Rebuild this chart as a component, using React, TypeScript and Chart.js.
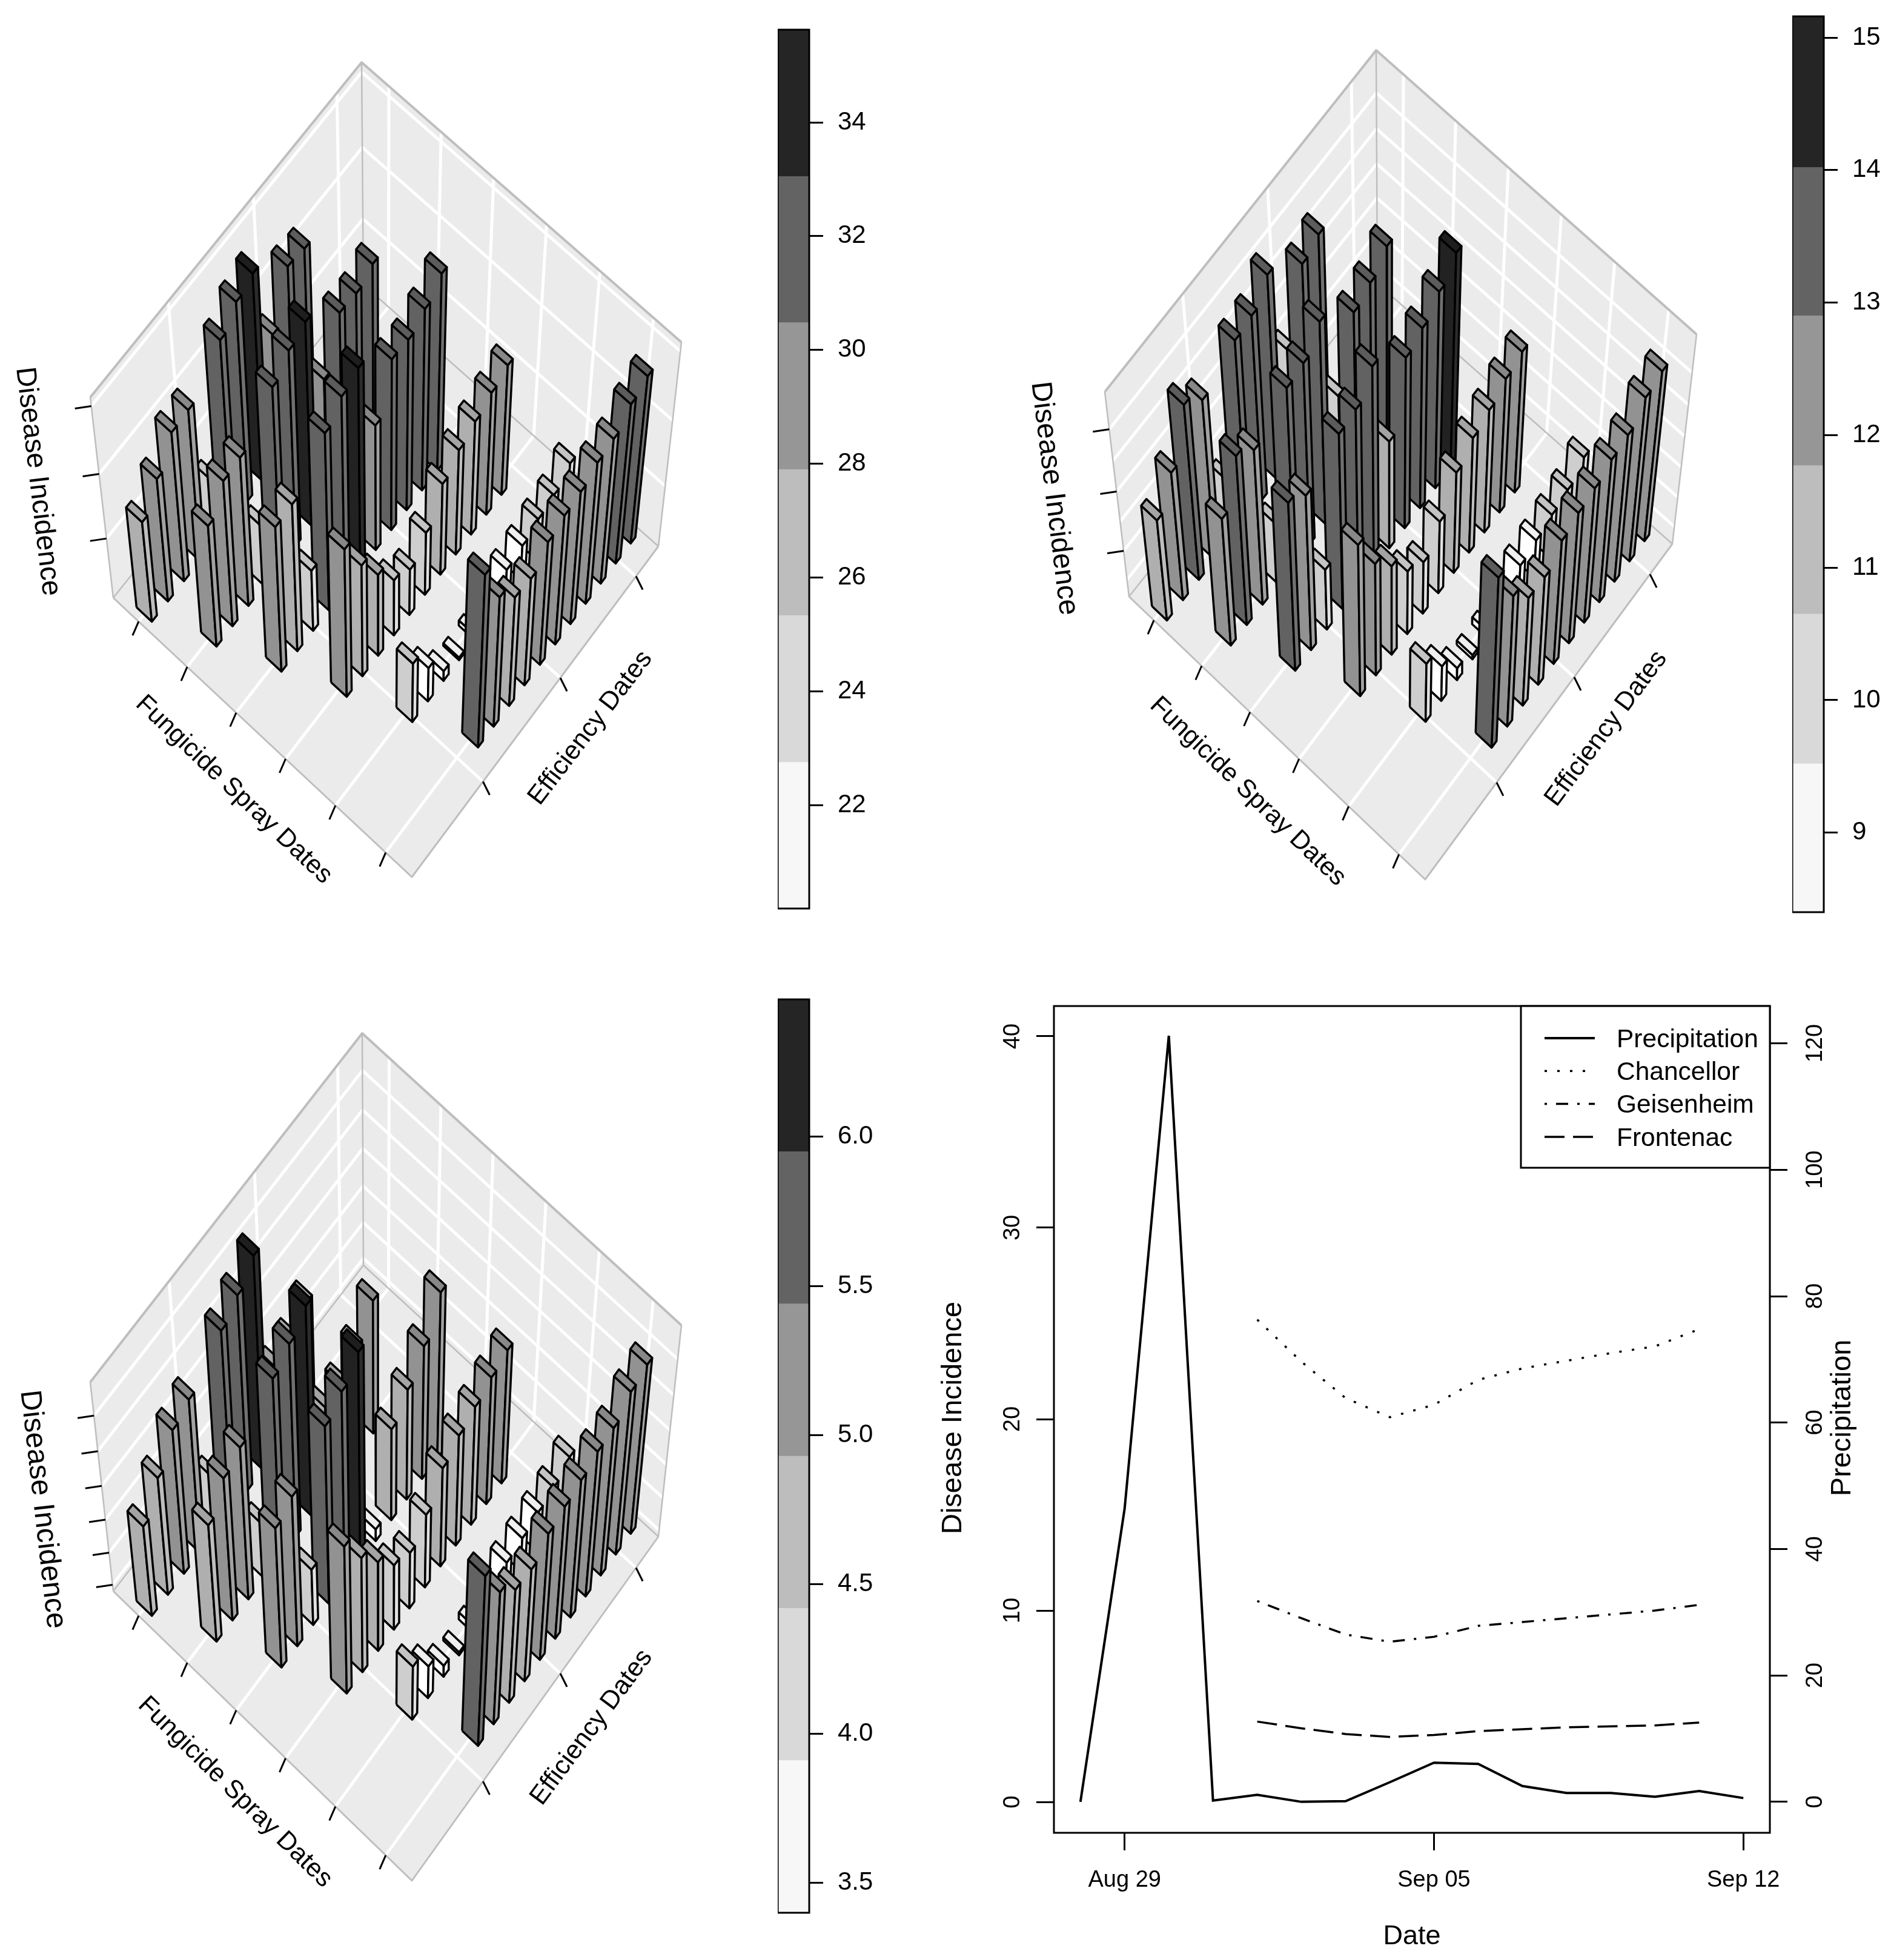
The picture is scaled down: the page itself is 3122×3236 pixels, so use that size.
import React, { useEffect, useRef } from "react";
import { Chart, registerables } from "chart.js";

Chart.register(...registerables);
Chart.defaults.font.family = "'Liberation Sans', Arial, sans-serif";
Chart.defaults.color = "#000";

/* ---------- data: disease incidence per spray date (rows) and efficiency date (columns) ---------- */
const chancellorValues = [
  [28.2, 29.9, 31.8, 31.9, 25.0, 33.9, 35.1, 35.6, 29.8, 33.2, 33.0],
  [29.9, 31.7, 31.85, 25.0, 33.9, 35.0, 35.5, 29.9, 33.2, 33.1, 33.7],
  [31.8, 31.9, 25.1, 34.0, 35.1, 35.6, 29.9, 33.2, 33.1, 33.8, 34.8],
  [32.1, 29.2, 26.8, 24.7, 23.9, 25.2, 27.4, 28.4, 29.0, 29.6, 30.1],
  [25.1, 23.0, 21.0, 20.4, 20.6, 21.5, 22.6, 22.9, 23.4, 23.7, 24.6],
  [34.2, 30.8, 29.1, 28.9, 30.1, 30.5, 30.7, 31.3, 31.5, 32.5, 33.0],
];
const chancellorLevels = [
  [2, 3, 3, 3, 1, 4, 4, 5, 3, 4, 4],
  [3, 3, 3, 1, 4, 4, 5, 3, 4, 4, 4],
  [3, 2, 1, 4, 4, 5, 3, 4, 4, 4, 4],
  [3, 2, 2, 1, 1, 1, 2, 2, 2, 3, 3],
  [1, 0, 0, 0, 0, 0, 0, 0, 1, 1, 1],
  [4, 3, 2, 2, 3, 3, 3, 3, 3, 4, 4],
];
const geisenheimValues = [
  [11.86, 12.73, 14.2, 13.68, 10.43, 14.2, 14.3, 14.88, 11.95, 13.95, 14.2],
  [12.77, 14.1, 13.6, 10.5, 14.2, 14.3, 14.9, 11.95, 13.9, 14.15, 14.6],
  [14.15, 13.68, 10.5, 14.26, 14.34, 15.0, 11.98, 13.95, 14.2, 14.65, 15.16],
  [13.65, 12.3, 11.5, 10.6, 10.2, 10.87, 11.8, 12.24, 12.46, 12.78, 12.97],
  [10.5, 9.65, 8.83, 8.55, 8.65, 8.9, 9.53, 9.68, 9.85, 10.0, 10.4],
  [14.34, 13.0, 12.2, 12.17, 12.67, 12.87, 12.97, 13.2, 13.3, 13.8, 13.95],
];
const geisenheimLevels = [
  [2, 3, 4, 3, 1, 4, 4, 4, 1, 4, 4],
  [3, 4, 3, 1, 4, 4, 4, 1, 4, 4, 4],
  [4, 3, 1, 4, 4, 4, 2, 4, 4, 4, 5],
  [3, 3, 2, 1, 1, 1, 2, 2, 2, 3, 3],
  [1, 0, 0, 0, 0, 0, 0, 0, 1, 1, 1],
  [4, 3, 2, 2, 3, 3, 3, 3, 3, 3, 3],
];
const frontenacValues = [
  [4.78, 5.17, 5.54, 5.66, 4.23, 6.0, 6.18, 6.41, 4.6, 4.7, 4.93],
  [5.2, 5.56, 5.68, 4.24, 6.02, 6.19, 6.4, 4.7, 4.73, 4.96, 5.3],
  [5.56, 5.69, 4.27, 6.05, 6.22, 6.45, 3.58, 4.76, 5.02, 5.33, 5.77],
  [5.7, 5.19, 4.79, 4.41, 4.27, 4.52, 4.89, 5.05, 5.15, 5.26, 5.34],
  [4.27, 3.92, 3.58, 3.45, 3.51, 3.7, 3.86, 3.91, 3.98, 4.04, 4.18],
  [6.1, 5.51, 5.2, 5.17, 5.37, 5.44, 5.5, 5.59, 5.61, 5.81, 5.88],
];
const frontenacLevels = [
  [2, 2, 3, 3, 1, 4, 4, 5, 2, 2, 2],
  [2, 3, 3, 1, 4, 4, 5, 2, 2, 2, 3],
  [3, 3, 1, 4, 4, 5, 0, 2, 2, 3, 3],
  [3, 2, 2, 1, 1, 1, 2, 2, 2, 3, 3],
  [1, 0, 0, 0, 0, 0, 0, 0, 0, 1, 1],
  [4, 3, 2, 2, 3, 3, 3, 3, 3, 3, 3],
];
const chancellorBreaks = [20.18, 22.75, 25.33, 27.9, 30.48, 33.05, 35.63];
const geisenheimBreaks = [8.4, 9.52, 10.65, 11.77, 12.9, 14.02, 15.16];
const frontenacBreaks = [3.4, 3.91, 4.42, 4.93, 5.44, 5.95, 6.46];
const chancellorBarTicks = [22, 24, 26, 28, 30, 32, 34];
const geisenheimBarTicks = [9, 10, 11, 12, 13, 14, 15];
const frontenacBarTicks = [3.5, 4, 4.5, 5, 5.5, 6];
const chancellorAxisTicks = [25, 30, 35];
const geisenheimAxisTicks = [10, 12, 14];
const geisenheimWallGrid = [9, 10, 11, 12, 13, 14];
const frontenacAxisTicks = [3.5, 4, 4.5, 5, 5.5, 6];
const sprayTicks = [0, 1, 2, 3, 4, 5];
const efficiencyTicks = [4, 9, 14];

/* line panel */
const precipDays = [-1, 0, 1, 2, 3, 4, 5, 6, 7, 8, 9, 10, 11, 12, 13, 14];
const precipitation = [0, 46.4, 121.2, 0.2, 1.1, 0, 0.1, 3.1, 6.2, 6.0, 2.5, 1.4, 1.4, 0.8, 1.7, 0.6];
const incidenceDays = [3, 4, 5, 6, 7, 8, 9, 10, 11, 12, 13];
const chancellorMeans = [25.2, 23, 21.1, 20.1, 20.75, 22.05, 22.65, 23.05, 23.45, 23.8, 24.7];
const geisenheimMeans = [10.5, 9.6, 8.75, 8.37, 8.63, 9.2, 9.4, 9.6, 9.8, 10, 10.3];
const frontenacMeans = [4.2, 3.85, 3.55, 3.4, 3.5, 3.7, 3.8, 3.9, 3.95, 4, 4.15];
const leftTicks = [0, 10, 20, 30, 40];
const rightTicks = [0, 20, 40, 60, 80, 100, 120];
const dateTicks = [0, 7, 14];
const dateTickLabels = ["Aug 29", "Sep 05", "Sep 12"];

/* ---------- styles and geometry ---------- */
const LEVEL_COLORS = ["#F7F7F7", "#D9D9D9", "#BDBDBD", "#969696", "#636363", "#252525"];
const FACE_LEFT = ["#FFFFFF", "#CECECE", "#AFAFAF", "#929292", "#626262", "#222222"];
const FACE_RIGHT = ["#FFFFFF", "#E2E2E2", "#BEBEBE", "#A2A2A2", "#707070", "#2C2C2C"];
const FACE_TOP = ["#EFEFEF", "#C4C4C4", "#A4A4A4", "#888888", "#5C5C5C", "#1E1E1E"];
const WALL = "#EBEBEB";
const EDGE = "#BEBEBE";

const panelGeometry = {
  chancellor: {
    left: 0, top: 0, width: 1270, height: 1620,
    L: [187, 987], F: [680, 1448], R: [1087, 902], B: [600, 470],
    TL: [149, 656], TF: [684, 1144], TR: [1125, 565], TB: [597, 103],
    disease: [62, 795, 83.3, 46.5], spray: [386, 1304, 43.6], eff: [975, 1202, -52.6],
  },
  geisenheim: {
    left: 1640, top: 0, width: 1305, height: 1620,
    L: [1864, 985], F: [2353, 1452], R: [2761, 898], B: [2274, 468],
    TL: [1824, 647], TF: [2357, 1142], TR: [2801, 552], TB: [2272, 83],
    disease: [1740, 823, 83, 47.5], spray: [2060, 1307, 43.8], eff: [2652, 1203, -53.4],
  },
  frontenac: {
    left: 0, top: 1620, width: 1270, height: 1616,
    L: [187, 2627], F: [680, 3105], R: [1087, 2537], B: [600, 2089],
    TL: [149, 2282], TF: [684, 2805], TR: [1125, 2188], TB: [598, 1706],
    disease: [70, 2492, 83.5, 48.5], spray: [388, 2959, 44.4], eff: [977, 2852, -53.4],
  },
};

const sprayPos = (s: number) => 0.087 + 0.1655 * s;
const effPos = (t: number) => 0.0314 + 0.0625 * t;
const HALF_A = 0.0262;
const HALF_B = 0.0098;
const Z_CURVE = 1.08;

function homography(p0: number[], p1: number[], p2: number[], p3: number[]) {
  const dx1 = p1[0] - p2[0], dx2 = p3[0] - p2[0], dx3 = p0[0] - p1[0] + p2[0] - p3[0];
  const dy1 = p1[1] - p2[1], dy2 = p3[1] - p2[1], dy3 = p0[1] - p1[1] + p2[1] - p3[1];
  const den = dx1 * dy2 - dx2 * dy1;
  const g = (dx3 * dy2 - dx2 * dy3) / den;
  const h = (dx1 * dy3 - dx3 * dy1) / den;
  const a = p1[0] - p0[0] + g * p1[0], b = p3[0] - p0[0] + h * p3[0], c = p0[0];
  const d = p1[1] - p0[1] + g * p1[1], e = p3[1] - p0[1] + h * p3[1], f = p0[1];
  return (u: number, v: number) => {
    const w = g * u + h * v + 1;
    return [(a * u + b * v + c) / w, (d * u + e * v + f) / w];
  };
}

function makeProjector(geo: any, zMin: number, zMax: number) {
  const floor = homography(geo.L, geo.F, geo.R, geo.B);
  const roof = homography(geo.TL, geo.TF, geo.TR, geo.TB);
  return (a: number, b: number, z: number) => {
    const g = (z - zMin) / (zMax - zMin);
    const t = g / (Z_CURVE + (1 - Z_CURVE) * g);
    const p = floor(a, b), q = roof(a, b);
    return { x: p[0] + (q[0] - p[0]) * t, y: p[1] + (q[1] - p[1]) * t };
  };
}

const poly = (pts: any[], fill: string | null, stroke: string | null, width: number) => ({
  type: "scatter",
  showLine: true,
  data: fill ? [...pts, pts[0]] : pts,
  fill: fill ? "shape" : false,
  backgroundColor: fill || "transparent",
  borderColor: stroke || "transparent",
  borderWidth: stroke ? width : 0,
  borderJoinStyle: "round",
  borderCapStyle: "butt",
  pointRadius: 0,
  tension: 0,
  clip: false,
});

function buildDatasets(geo: any, values: number[][], levels: number[][], breaks: number[], wallGrid: number[], axisTicks: number[]) {
  const zMin = breaks[0], zMax = breaks[breaks.length - 1];
  const P = makeProjector(geo, zMin, zMax);
  const list: any[] = [];
  // walls and floor
  list.push(poly([P(0, 0, zMin), P(0, 1, zMin), P(0, 1, zMax), P(0, 0, zMax)], WALL, null, 0));
  list.push(poly([P(0, 1, zMin), P(1, 1, zMin), P(1, 1, zMax), P(0, 1, zMax)], WALL, null, 0));
  list.push(poly([P(0, 0, zMin), P(1, 0, zMin), P(1, 1, zMin), P(0, 1, zMin)], WALL, null, 0));
  // white reference grid
  for (const z of wallGrid) {
    list.push(poly([P(0, 0, z), P(0, 1, z), P(1, 1, z)], null, "#FFFFFF", 5));
  }
  for (const s of sprayTicks) {
    const a = sprayPos(s);
    list.push(poly([P(a, 0, zMin), P(a, 1, zMin), P(a, 1, zMax)], null, "#FFFFFF", 5));
  }
  for (const t of efficiencyTicks) {
    const b = effPos(t);
    list.push(poly([P(1, b, zMin), P(0, b, zMin), P(0, b, zMax)], null, "#FFFFFF", 5));
  }
  // box edges
  list.push(poly([P(0, 0, zMax), P(0, 1, zMax), P(1, 1, zMax)], null, EDGE, 4));
  list.push(poly([P(0, 0, zMin), P(0, 0, zMax)], null, EDGE, 2.5));
  list.push(poly([P(1, 1, zMin), P(1, 1, zMax)], null, EDGE, 2.5));
  list.push(poly([P(0, 1, zMin), P(0, 1, zMax)], null, EDGE, 2.5));
  list.push(poly([P(0, 0, zMin), P(1, 0, zMin), P(1, 1, zMin)], null, EDGE, 3));
  list.push(poly([P(0, 0, zMin), P(0, 1, zMin), P(1, 1, zMin)], null, EDGE, 2.5));
  // tick marks
  for (const s of sprayTicks) {
    const p = P(sprayPos(s), 0, zMin);
    list.push(poly([p, { x: p.x - 10, y: p.y + 23 }], null, "#000", 3));
  }
  for (const t of efficiencyTicks) {
    const p = P(1, effPos(t), zMin);
    list.push(poly([p, { x: p.x + 11, y: p.y + 22 }], null, "#000", 3));
  }
  for (const z of axisTicks) {
    const p = P(0, 0, z);
    list.push(poly([p, { x: p.x - 27, y: p.y + 4 }], null, "#000", 3));
  }
  // bars, far ones first
  const bars: any[] = [];
  values.forEach((row, s) =>
    row.forEach((z, v) => {
      const a = sprayPos(s), b = effPos(s + v);
      bars.push({ a, b, z, level: levels[s][v] });
    })
  );
  bars.sort((p, q) => p.a - p.b - (q.a - q.b));
  for (const { a, b, z, level } of bars) {
    const a0 = a - HALF_A, a1 = a + HALF_A, b0 = b - HALF_B, b1 = b + HALF_B;
    list.push(poly([P(a0, b0, zMin), P(a1, b0, zMin), P(a1, b0, z), P(a0, b0, z)], FACE_LEFT[level], "#000", 3.5));
    list.push(poly([P(a1, b0, zMin), P(a1, b1, zMin), P(a1, b1, z), P(a1, b0, z)], FACE_RIGHT[level], "#000", 3.5));
    list.push(poly([P(a0, b0, z), P(a1, b0, z), P(a1, b1, z), P(a0, b1, z)], FACE_TOP[level], "#000", 3.5));
  }
  return list.reverse(); // Chart.js paints dataset 0 last
}

function rotatedText(ctx: any, text: string, x: number, y: number, deg: number, size: number) {
  ctx.save();
  ctx.translate(x, y);
  ctx.rotate((deg * Math.PI) / 180);
  ctx.font = `${size}px 'Liberation Sans', Arial, sans-serif`;
  ctx.fillStyle = "#000";
  ctx.textAlign = "center";
  ctx.textBaseline = "middle";
  ctx.fillText(text, 0, 0);
  ctx.restore();
}

function Panel3D({ geo, values, levels, breaks, wallGrid, axisTicks }: any) {
  const ref = useRef<HTMLCanvasElement>(null);
  useEffect(() => {
    const chart = new Chart(ref.current as any, {
      type: "scatter",
      data: { datasets: buildDatasets(geo, values, levels, breaks, wallGrid, axisTicks) as any },
      options: {
        responsive: false,
        animation: false,
        devicePixelRatio: 1,
        layout: { padding: 0 },
        plugins: { legend: { display: false }, tooltip: { enabled: false } },
        scales: {
          x: { type: "linear", display: false, min: geo.left, max: geo.left + geo.width },
          y: { type: "linear", display: false, reverse: true, min: geo.top, max: geo.top + geo.height },
        },
      } as any,
      plugins: [
        {
          id: "axisTitles",
          afterDraw(c: any) {
            const sx = (v: number) => c.scales.x.getPixelForValue(v);
            const sy = (v: number) => c.scales.y.getPixelForValue(v);
            const put = (t: string, spec: number[], size: number) =>
              rotatedText(c.ctx, t, sx(spec[0]), sy(spec[1]), spec[2], size);
            put("Disease Incidence", geo.disease, geo.disease[3]);
            put("Fungicide Spray Dates", geo.spray, 42.5);
            put("Efficiency Dates", geo.eff, 43);
          },
        },
      ],
    });
    return () => chart.destroy();
  }, []);
  return (
    <canvas
      ref={ref}
      width={geo.width}
      height={geo.height}
      style={{ position: "absolute", left: geo.left, top: geo.top, width: geo.width, height: geo.height }}
    />
  );
}

const barFrame = {
  id: "frame",
  afterDraw(c: any) {
    const { left, top, width, height } = c.chartArea;
    c.ctx.save();
    c.ctx.strokeStyle = "#000";
    c.ctx.lineWidth = 3;
    c.ctx.strokeRect(left, top, width, height);
    c.ctx.restore();
  },
};

function ColorBar({ left, top, bottom, breaks, ticks, decimals }: any) {
  const ref = useRef<HTMLCanvasElement>(null);
  const PAD = 70; // larger than the scale's own label overhang, so the bar spans exactly top..bottom
  const canvasTop = top - PAD, canvasH = bottom - top + 2 * PAD, canvasW = 160;
  useEffect(() => {
    const chart = new Chart(ref.current as any, {
      type: "bar",
      data: {
        labels: [""],
        datasets: LEVEL_COLORS.map((color, i) => ({
          data: [[breaks[i], breaks[i + 1]]],
          backgroundColor: color,
          borderWidth: 0,
          barPercentage: 1,
          categoryPercentage: 1,
          grouped: false,
        })) as any,
      },
      options: {
        responsive: false,
        animation: false,
        devicePixelRatio: 1,
        layout: { padding: { top: PAD, bottom: PAD, left: 0, right: 0 } },
        plugins: { legend: { display: false }, tooltip: { enabled: false } },
        scales: {
          x: { display: false, stacked: false },
          y: {
            type: "linear",
            position: "right",
            min: breaks[0],
            max: breaks[breaks.length - 1],
            afterFit: (s: any) => { s.width = canvasW - 52; },
            afterBuildTicks: (s: any) => { s.ticks = ticks.map((value: number) => ({ value })); },
            border: { display: false },
            grid: { drawOnChartArea: false, drawTicks: true, tickLength: 23, tickWidth: 3, tickColor: "#000" },
            ticks: {
              padding: 24,
              font: { size: 42 },
              color: "#000",
              callback: (v: number) => (decimals ? v.toFixed(decimals) : String(v)),
            },
          },
        },
      } as any,
      plugins: [barFrame],
    });
    return () => chart.destroy();
  }, []);
  return (
    <canvas
      ref={ref}
      width={canvasW}
      height={canvasH}
      style={{ position: "absolute", left, top: canvasTop, width: canvasW, height: canvasH }}
    />
  );
}

const DOTTED = [4, 17];
const DOTDASH = [4, 15, 20, 15];
const DASHED = [33, 14];
const legendRows = [
  { label: "Precipitation", dash: [] as number[] },
  { label: "Chancellor", dash: DOTTED },
  { label: "Geisenheim", dash: DOTDASH },
  { label: "Frontenac", dash: DASHED },
];

function LinePanel() {
  const ref = useRef<HTMLCanvasElement>(null);
  const W = 1622, H = 1616;
  useEffect(() => {
    const series = (data: number[], days: number[], axis: string, dash: number[]) => ({
      type: "line",
      data: data.map((y, i) => ({ x: days[i], y })),
      yAxisID: axis,
      borderColor: "#000",
      borderWidth: dash.length ? 3.5 : 4,
      borderDash: dash,
      pointRadius: 0,
      tension: 0,
      fill: false,
      borderJoinStyle: "miter",
    });
    const chart = new Chart(ref.current as any, {
      type: "line",
      data: {
        datasets: [
          series(precipitation, precipDays, "yRight", []),
          series(chancellorMeans, incidenceDays, "yLeft", DOTTED),
          series(geisenheimMeans, incidenceDays, "yLeft", DOTDASH),
          series(frontenacMeans, incidenceDays, "yLeft", DASHED),
        ] as any,
      },
      options: {
        responsive: false,
        animation: false,
        devicePixelRatio: 1,
        layout: { padding: { top: 41, left: 0, right: 0, bottom: 0 } },
        plugins: { legend: { display: false }, tooltip: { enabled: false } },
        scales: {
          x: {
            type: "linear",
            min: -1.6,
            max: 14.6,
            afterFit: (s: any) => { s.height = H - 1406; },
            afterBuildTicks: (s: any) => { s.ticks = dateTicks.map((value) => ({ value })); },
            border: { display: false },
            grid: { drawOnChartArea: false, tickLength: 29, tickWidth: 3, tickColor: "#000" },
            ticks: {
              padding: 27,
              maxRotation: 0,
              font: { size: 38 },
              color: "#000",
              callback: (v: number) => dateTickLabels[dateTicks.indexOf(v)],
            },
          },
          yLeft: {
            type: "linear",
            position: "left",
            min: -1.61,
            max: 41.58,
            afterFit: (s: any) => { s.width = 240; },
            afterBuildTicks: (s: any) => { s.ticks = leftTicks.map((value) => ({ value })); },
            border: { display: false },
            grid: { drawOnChartArea: false, tickLength: 29, tickWidth: 3, tickColor: "#000" },
            ticks: { padding: 17, minRotation: 90, maxRotation: 90, crossAlign: "center", font: { size: 38 }, color: "#000" },
          },
          yRight: {
            type: "linear",
            position: "right",
            min: -4.9,
            max: 125.9,
            afterFit: (s: any) => { s.width = W - 1422; },
            afterBuildTicks: (s: any) => { s.ticks = rightTicks.map((value) => ({ value })); },
            border: { display: false },
            grid: { drawOnChartArea: false, tickLength: 29, tickWidth: 3, tickColor: "#000" },
            ticks: { padding: 15, minRotation: 90, maxRotation: 90, crossAlign: "center", font: { size: 38 }, color: "#000" },
          },
        },
      } as any,
      plugins: [
        barFrame,
        {
          id: "titlesAndLegend",
          afterDraw(c: any) {
            const ctx = c.ctx;
            rotatedText(ctx, "Disease Incidence", 74, 721, -90, 47);
            rotatedText(ctx, "Precipitation", 1542, 721, -90, 47);
            rotatedText(ctx, "Date", 831, 1578, 0, 45);
            // legend box, flush with the plot's top right corner
            const box = { left: 1011, top: 41, right: c.chartArea.right, bottom: 308 };
            ctx.save();
            ctx.fillStyle = "#FFF";
            ctx.fillRect(box.left, box.top, box.right - box.left, box.bottom - box.top);
            ctx.strokeStyle = "#000";
            ctx.lineWidth = 3;
            ctx.strokeRect(box.left, box.top, box.right - box.left, box.bottom - box.top);
            ctx.font = "42.5px 'Liberation Sans', Arial, sans-serif";
            ctx.textBaseline = "middle";
            ctx.textAlign = "left";
            ctx.fillStyle = "#000";
            legendRows.forEach((row, i) => {
              const y = 94 + i * 54.3;
              ctx.setLineDash(row.dash);
              ctx.lineWidth = row.dash.length ? 3.5 : 4;
              ctx.beginPath();
              ctx.moveTo(1050, y);
              ctx.lineTo(1133, y);
              ctx.stroke();
              ctx.setLineDash([]);
              ctx.fillText(row.label, 1169, y + 3);
            });
            ctx.restore();
          },
        },
      ],
    });
    return () => chart.destroy();
  }, []);
  return (
    <canvas
      ref={ref}
      width={W}
      height={H}
      style={{ position: "absolute", left: 1500, top: 1620, width: W, height: H }}
    />
  );
}

export default function App() {
  return (
    <div style={{ position: "absolute", left: 0, top: 0, width: 3122, height: 3236, background: "#FFF", overflow: "hidden" }}>
      <Panel3D geo={panelGeometry.chancellor} values={chancellorValues} levels={chancellorLevels} breaks={chancellorBreaks} wallGrid={chancellorAxisTicks} axisTicks={chancellorAxisTicks} />
      <ColorBar left={1284} top={49} bottom={1500} breaks={chancellorBreaks} ticks={chancellorBarTicks} decimals={0} />
      <Panel3D geo={panelGeometry.geisenheim} values={geisenheimValues} levels={geisenheimLevels} breaks={geisenheimBreaks} wallGrid={geisenheimWallGrid} axisTicks={geisenheimAxisTicks} />
      <ColorBar left={2959} top={27} bottom={1506} breaks={geisenheimBreaks} ticks={geisenheimBarTicks} decimals={0} />
      <Panel3D geo={panelGeometry.frontenac} values={frontenacValues} levels={frontenacLevels} breaks={frontenacBreaks} wallGrid={frontenacAxisTicks} axisTicks={frontenacAxisTicks} />
      <ColorBar left={1284} top={1650} bottom={3158} breaks={frontenacBreaks} ticks={frontenacBarTicks} decimals={1} />
      <LinePanel />
    </div>
  );
}
